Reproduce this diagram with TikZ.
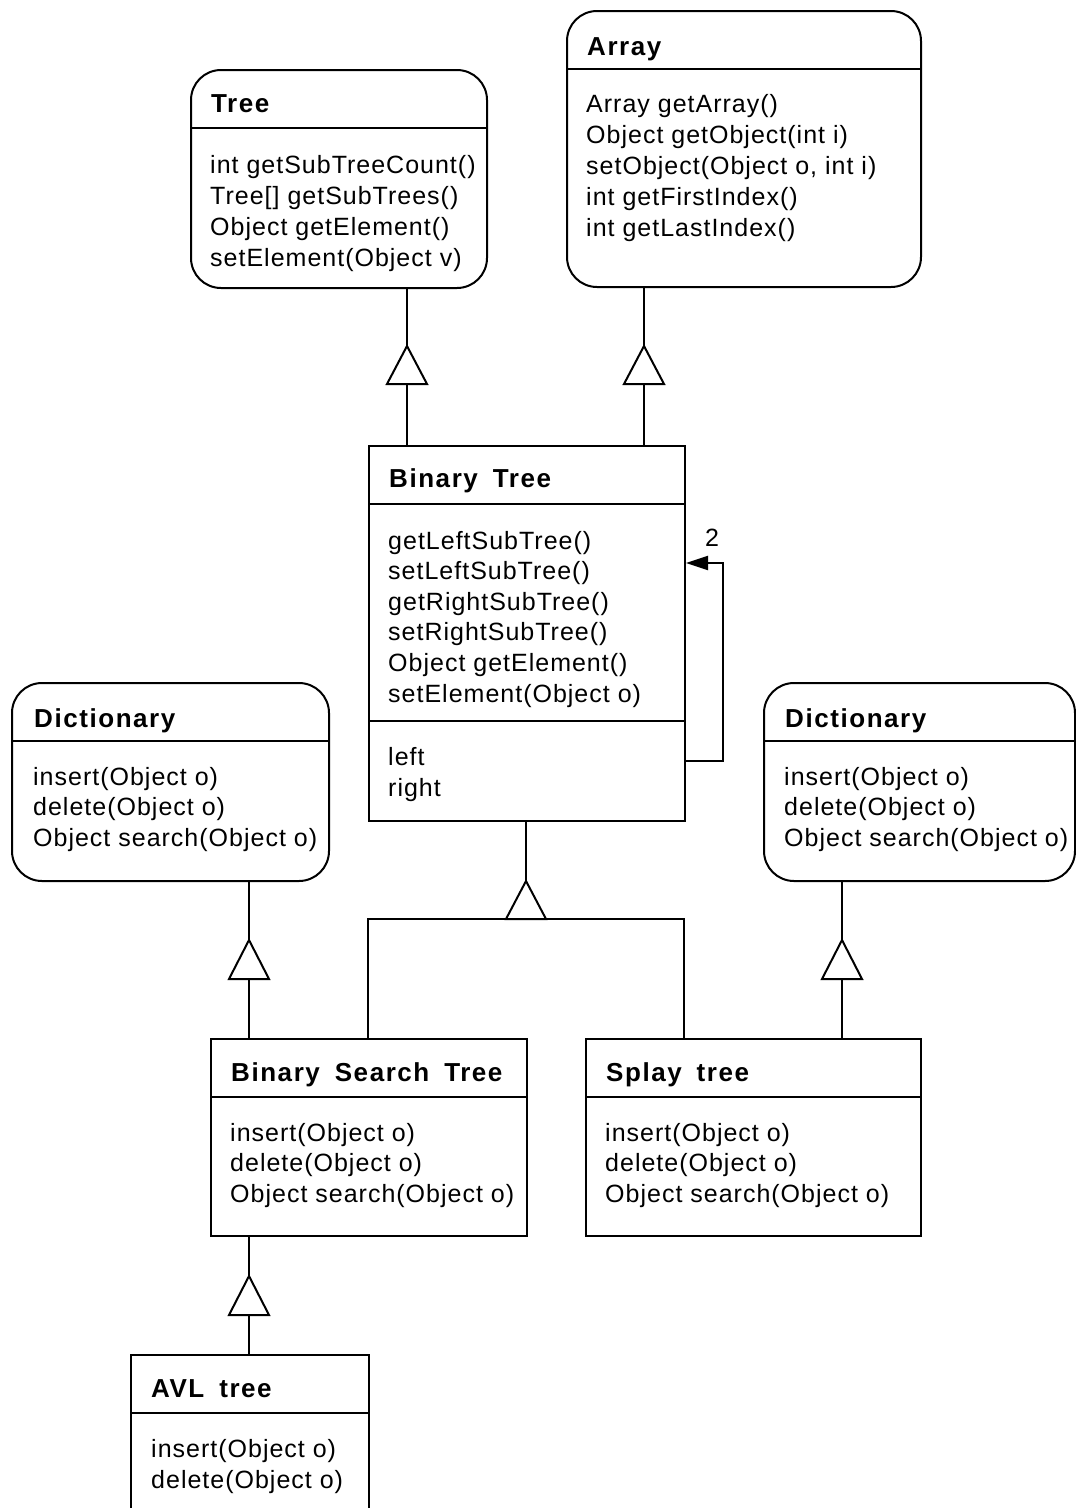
\documentclass[tikz,border=0pt]{standalone}
\usepackage{fontspec}
\setmainfont{Liberation Sans}
\usetikzlibrary{arrows.meta}
\newfontfamily\bodyfont[LetterSpace=4]{Liberation Sans}
\newfontfamily\titlefont[LetterSpace=6,WordSpace=1.7]{Liberation Sans Bold}
\tikzset{
  box/.style={draw, line width=2pt, rectangle, anchor=north west, inner sep=0pt},
  roundbox/.style={box, rounded corners=30pt},
  divider/.style={line width=2pt},
  ttl/.style={anchor=base west, inner sep=0pt, font=\titlefont\fontsize{26}{31}\selectfont},
  mtext/.style={anchor=base west, inner sep=0pt, font=\bodyfont\fontsize{25}{31}\selectfont},
  conn/.style={line width=2pt},
  gen/.style={draw, line width=2pt, fill=white},
}
\newcommand\classbox[7]{% name, style, x1, y1, x2, y2, header y
  \node[#2, minimum width={(#5-#3)*1pt}, minimum height={(#6-#4)*1pt}] (#1) at (#3,#4) {};
  \draw[divider] (#1.west |- 0,#7) -- (#1.east |- 0,#7);
}
\newcommand\methodlist[5]{% prefix, x, first baseline, step, list
  \foreach \t [count=\i] in {#5}
    \node[mtext] (#1-\i) at (#2, {#3+#4*(\i-1)}) {\t};
}
\newcommand\gentri[3]{% x, apex y, base y
  \draw[gen] (#1,#2) -- (#1+20,#3) -- (#1-20,#3) -- cycle;
}
\begin{document}
\begin{tikzpicture}[x=1pt, y=-1pt]
\useasboundingbox (0,0) rectangle (1076,1508);
\clip (0,0) rectangle (1076,1508);
\fill[white] (0,0) rectangle (1076,1508);

% Tree
\classbox{tree}{roundbox}{190}{69}{486}{287}{128}
\node[ttl] (tree-t) at (211,112) {Tree};
\methodlist{tree}{210}{173}{31}{int getSubTreeCount(), {Tree[] getSubTrees()}, Object getElement(), setElement(Object v)}

% Array
\classbox{array}{roundbox}{566}{10}{920}{286}{69}
\node[ttl] (array-t) at (587,55) {Array};
\methodlist{array}{586}{112}{31}{Array getArray(), Object getObject(int i), {setObject(Object o, int i)}, int getFirstIndex(), int getLastIndex()}

% Binary Tree
\classbox{bt}{box}{368}{445}{684}{820}{504}
\draw[divider] (bt.west |- 0,721) -- (bt.east |- 0,721);
\node[ttl] (bt-t) at (389,487) {Binary Tree};
\methodlist{bt}{388}{549}{30.6}{getLeftSubTree(), setLeftSubTree(), getRightSubTree(), setRightSubTree(), Object getElement(), setElement(Object o)}
\node[mtext] (bt-left) at (388,765) {left};
\node[mtext] (bt-right) at (388,796) {right};

% Dictionaries
\classbox{dictl}{roundbox}{11}{682}{328}{880}{741}
\node[ttl] (dictl-t) at (34,727) {Dictionary};
\methodlist{dictl}{33}{785}{30.7}{insert(Object o), delete(Object o), Object search(Object o)}

\classbox{dictr}{roundbox}{763}{682}{1074}{880}{741}
\node[ttl] (dictr-t) at (785,727) {Dictionary};
\methodlist{dictr}{784}{785}{30.7}{insert(Object o), delete(Object o), Object search(Object o)}

% Binary Search Tree
\classbox{bst}{box}{210}{1038}{526}{1235}{1097}
\node[ttl] (bst-t) at (231,1081) {Binary Search Tree};
\methodlist{bst}{230}{1141}{30.7}{insert(Object o), delete(Object o), Object search(Object o)}

% Splay tree
\classbox{splay}{box}{585}{1038}{920}{1235}{1097}
\node[ttl] (splay-t) at (606,1081) {Splay tree};
\methodlist{splay}{605}{1141}{30.7}{insert(Object o), delete(Object o), Object search(Object o)}

% AVL tree
\classbox{avl}{box}{130}{1354}{368}{1530}{1413}
\node[ttl] (avl-t) at (151,1397) {AVL tree};
\methodlist{avl}{151}{1457}{31}{insert(Object o), delete(Object o)}

% Connectors
\coordinate (xa) at (407,0);
\coordinate (xb) at (644,0);
\coordinate (xc) at (526,0);
\coordinate (xd) at (249,0);
\coordinate (xe) at (842,0);
\coordinate (xf) at (368,0);
\coordinate (xg) at (684,0);
\coordinate (jn) at (526,919);

\draw[conn] (xa |- tree.south) -- (xa |- bt.north);
\gentri{407}{346}{384}
\draw[conn] (xb |- array.south) -- (xb |- bt.north);
\gentri{644}{346}{384}

\draw[conn] (xc |- bt.south) -- (jn);
\draw[conn] (xf |- bst.north) -- (xf |- jn) -- (xg |- jn) -- (xg |- splay.north);
\gentri{526}{881}{919}

\draw[conn] (xd |- dictl.south) -- (xd |- bst.north);
\gentri{249}{940}{979}
\draw[conn] (xe |- dictr.south) -- (xe |- splay.north);
\gentri{842}{940}{979}

\draw[conn] (xd |- bst.south) -- (xd |- avl.north);
\gentri{249}{1276}{1315}

% Self association
\coordinate (lp1) at (723,761);
\coordinate (lp2) at (723,563);
\draw[conn, -{Triangle[length=22pt, width=14pt]}] (bt.east |- lp1) -- (lp1) -- (lp2) -- (bt.east |- lp2);
\node[mtext, anchor=center] (mult) at (712,538) {2};
\end{tikzpicture}
\end{document}
